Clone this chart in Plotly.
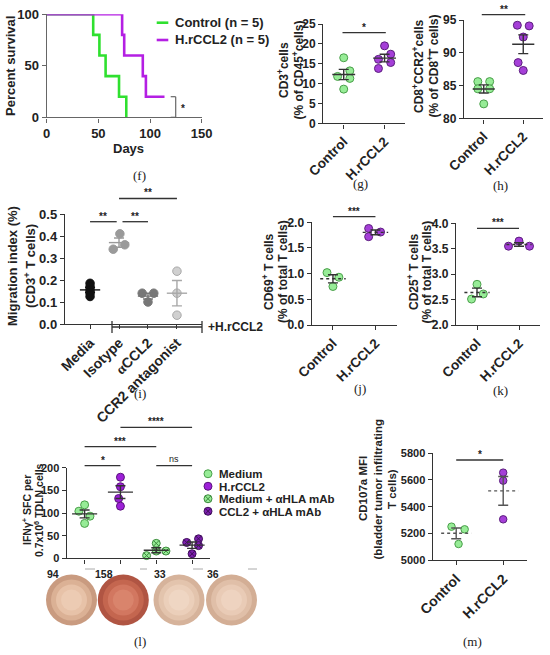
import numpy as np
import plotly.graph_objects as go

W, H = 550, 655
SANS = 'Liberation Sans, Arial, sans-serif'
SERIF = 'Liberation Serif, Times New Roman, serif'

GREEN_LINE = '#2fe02f'
PURPLE_LINE = '#b41fe3'
GREEN_FILL = '#97ec97'
GREEN_EDGE = '#4a9f4a'
PURPLE_FILL = '#a53fd8'
PURPLE_EDGE = '#5c1f7e'
AX = '#333333'

# ---- data ----
# (f) survival
surv_ctrl_days = [0, 45, 51, 57, 70, 77]
surv_ctrl_pct = [100, 80, 60, 40, 20, 0]
surv_hr_days = [0, 73, 75, 93, 96, 114]
surv_hr_pct = [100, 80, 60, 40, 20, 20]

two_groups = ['Control', 'H.rCCL2']

# (g) CD3+ % of CD45+
cd3_ctrl = [16.5, 13.2, 11.8, 11.3, 8.6]
cd3_hr = [19.5, 17.4, 16.1, 15.3, 13.8]

# (h) CD8+CCR2+ % of CD8+
ccr2_ctrl = [85.6, 85.6, 84.5, 84.5, 82.2]
ccr2_hr = [94.2, 94.1, 92.4, 88.5, 87.3]

# (i) migration index
mig_groups = ['Media', 'Isotype', "<span style='font-family:Liberation Serif'>α</span>CCL2",
              'CCR2 antagonist']
mig_media = [0.185, 0.17, 0.155, 0.14, 0.125]
mig_isotype = [0.41, 0.34, 0.36]
mig_accl2 = [0.14, 0.14, 0.10]
mig_ccr2 = [0.24, 0.14, 0.04]

# (j) CD69+
cd69_ctrl = [1.02, 0.93, 0.75]
cd69_hr = [1.88, 1.72, 1.81]

# (k) CD25+
cd25_ctrl = [2.80, 2.51, 2.61]
cd25_hr = [3.55, 3.65, 3.55]

# (l) IFNg ELISpot
ifn_groups = ['Medium', 'H.rCCL2', 'Medium + αHLA mAb', 'CCL2 + αHLA mAb']
ifn_medium = [118, 104, 93, 77]
ifn_hr = [179, 158, 132, 115]
ifn_medium_hla = [33, 6, 16, 16]
ifn_ccl2_hla = [35, 43, 28, 10]
spot_counts = ['94', '158', '33', '36']

# (m) CD107a MFI
cd107_ctrl = [5250, 5230, 5120]
cd107_hr = [5655, 5595, 5305]


def px(v):
    return v / W


def py(v):
    return 1 - v / H


fig = go.Figure()
layout = dict(width=W, height=H, margin=dict(l=0, r=0, t=0, b=0, autoexpand=False),
              paper_bgcolor='white', plot_bgcolor='white', showlegend=False,
              font=dict(family=SANS, color='#222'))


def axis_style(color=AX, size=12):
    return dict(showline=True, linecolor=color, linewidth=1.4, ticks='outside', ticklen=4,
                tickwidth=1.4, tickcolor=color, showgrid=False, zeroline=False, fixedrange=True,
                automargin=False,
                tickfont=dict(family=SANS, size=size, weight='bold', color='#222'))


def add_axes(n, xdom, ydom, xrange, yrange, ytick, xtickvals, xticktext=None, size=12, xsize=13.5, color=AX,
             yfmt=None):
    xa = axis_style(color, xsize)
    xa.update(domain=[px(xdom[0]), px(xdom[1])], range=xrange, anchor=f'y{n}',
              tickvals=xtickvals, ticktext=xticktext, tickangle=-45 if xticktext else 0,
              showticklabels=xticktext is not None)
    ya = axis_style(color, size)
    ya.update(domain=[py(ydom[1]), py(ydom[0])], range=yrange, anchor=f'x{n}', dtick=ytick)
    if yfmt:
        ya['tickformat'] = yfmt
    layout['xaxis' if n == 1 else f'xaxis{n}'] = xa
    layout['yaxis' if n == 1 else f'yaxis{n}'] = ya


def dots(n, x0, vals, dx, fill, edge, size=8, symbol='circle'):
    fig.add_trace(go.Scatter(x=[x0 + d for d in dx], y=vals, mode='markers', cliponaxis=False,
                             marker=dict(size=size, color=fill, symbol=symbol, line=dict(color=edge, width=1)),
                             xaxis=f'x{n}', yaxis=f'y{n}', hoverinfo='skip'))


def mean_sem(n, x0, vals, half, color=AX, dash='solid', mcolor=None):
    m = float(np.mean(vals))
    s = float(np.std(vals, ddof=1) / np.sqrt(len(vals)))
    fig.add_trace(go.Scatter(x=[x0 - half, x0 + half], y=[m, m], mode='lines', cliponaxis=False,
                             line=dict(color=mcolor or color, width=1.4, dash=dash),
                             xaxis=f'x{n}', yaxis=f'y{n}', hoverinfo='skip'))
    fig.add_trace(go.Scatter(x=[x0], y=[m], mode='markers', marker=dict(size=1, opacity=0),
                             error_y=dict(type='data', array=[s], color=color, thickness=1.4, width=5),
                             cliponaxis=False, xaxis=f'x{n}', yaxis=f'y{n}', hoverinfo='skip'))


annots = []
shapes = []


def text(x, y, t, size=12, angle=0, family=SANS, xanchor='center', color='#222'):
    annots.append(dict(x=px(x), y=py(y), xref='paper', yref='paper', text=t, showarrow=False,
                       textangle=angle, xanchor=xanchor, yanchor='middle',
                       font=dict(family=family, size=size, color=color)))


def ytitle(xs, y, lines, size=12):
    for x, t in zip(xs, lines):
        text(x, y, f'<b>{t}</b>', size=size, angle=-90)


def bracket(n, xa, xb, ypix, label, size=10):
    shapes.append(dict(type='line', xref=f'x{n}', yref='paper', x0=xa, x1=xb, y0=py(ypix), y1=py(ypix),
                       line=dict(color=AX, width=1.3)))
    bold = label != 'ns'
    annots.append(dict(x=(xa + xb) / 2, y=py(ypix), xref=f'x{n}', yref='paper', showarrow=False,
                       text=f'<b>{label}</b>' if bold else label, yanchor='bottom', yshift=-2 if bold else 0,
                       font=dict(family=SANS, size=size if bold else 9, color='#222')))


# ---- (f) survival ----
add_axes(1, (46.7, 201.7), (14.3, 117.3), [0, 150], [0, 100], 50, [0, 50, 100, 150], size=13, xsize=13,
         color='#666')
layout['xaxis']['showticklabels'] = True
fig.add_trace(go.Scatter(x=surv_ctrl_days, y=surv_ctrl_pct, mode='lines', line_shape='hv', cliponaxis=False,
                         line=dict(color=GREEN_LINE, width=2.6), xaxis='x', yaxis='y'))
fig.add_trace(go.Scatter(x=surv_hr_days, y=surv_hr_pct, mode='lines', line_shape='hv', cliponaxis=False,
                         line=dict(color=PURPLE_LINE, width=2.6), xaxis='x', yaxis='y'))
ytitle([10], 66, ['Percent survival'], size=13)
text(128, 148, '<b>Days</b>', size=13)
for yy, col, lab in [(22.7, GREEN_LINE, 'Control (n = 5)'), (40, PURPLE_LINE, 'H.rCCL2 (n = 5)')]:
    shapes.append(dict(type='line', xref='paper', yref='paper', x0=px(156.7), x1=px(168.3), y0=py(yy), y1=py(yy),
                       line=dict(color=col, width=2.6)))
    text(172.7, yy, f'<b>{lab}</b>', size=13, xanchor='left')
for seg in [(175.7, 96.7, 175.7, 117.3), (170.7, 96.7, 175.7, 96.7), (170.7, 117.3, 175.7, 117.3)]:
    shapes.append(dict(type='line', xref='paper', yref='paper', x0=px(seg[0]), y0=py(seg[1]),
                       x1=px(seg[2]), y1=py(seg[3]), line=dict(color='#666', width=1.2)))
text(182.7, 109, '<b>*</b>', size=10)
text(140, 176, '(f)', size=13, family=SERIF)

# ---- (g) CD3 ----
add_axes(2, (323.3, 405), (24, 123.3), [-0.5, 1.5], [0, 25], 5, [0, 1], two_groups)
dots(2, 0, cd3_ctrl, [0, 0.15, -0.15, 0.15, 0], GREEN_FILL, GREEN_EDGE)
dots(2, 1, cd3_hr, [0, 0.15, -0.15, 0.15, -0.15], PURPLE_FILL, PURPLE_EDGE)
mean_sem(2, 0, cd3_ctrl, 0.28)
mean_sem(2, 1, cd3_hr, 0.28)
bracket(2, -0.03, 1.03, 32.7, '*')
ytitle([283, 297.5], 70, ['CD3<sup>+</sup>cells', '(% of CD45<sup>+</sup>cells)'])
text(360, 183, '(g)', size=13, family=SERIF)

# ---- (h) CD8 CCR2 ----
add_axes(3, (464, 543), (20, 118.3), [-0.5, 1.5], [80, 95], 5, [0, 1], two_groups)
dots(3, 0, ccr2_ctrl, [-0.15, 0.15, -0.15, 0.15, 0], GREEN_FILL, GREEN_EDGE)
dots(3, 1, ccr2_hr, [-0.15, 0.15, 0, -0.13, 0], PURPLE_FILL, PURPLE_EDGE)
mean_sem(3, 0, ccr2_ctrl, 0.28)
mean_sem(3, 1, ccr2_hr, 0.28)
bracket(3, -0.05, 1.05, 14.7, '**')
ytitle([418, 432.5], 66, ['CD8<sup>+</sup>CCR2<sup>+</sup>cells', '(% of CD8<sup>+</sup>T cells)'])
text(500, 185, '(h)', size=13, family=SERIF)

# ---- (i) migration ----
add_axes(4, (65, 202), (214, 324), [-0.865, 3.865], [0, 0.5], 0.1, [0, 1, 2, 3], mig_groups, size=13, xsize=14,
         yfmt='.1f')
mig_style = [('#111111', '#111111', mig_media, [0, 0, 0, 0, 0]),
             ('#9a9a9a', '#9a9a9a', mig_isotype, [0.03, -0.2, 0.2]),
             ('#777777', '#777777', mig_accl2, [-0.2, 0.2, 0]),
             ('#d0d0d0', '#a8a8a8', mig_ccr2, [0, 0, 0])]
for k, (fill, edge, vals, dx) in enumerate(mig_style):
    dots(4, k, vals, dx, fill, edge, size=8.5)
    mean_sem(4, k, vals, 0.35, color=edge)
bracket(4, 0, 0.92, 221.7, '**')
bracket(4, 1.12, 2.0, 221.7, '**')
bracket(4, 1.0, 3.0, 198.5, '**')
for seg in [(112, 327, 202, 327), (112, 321, 112, 333), (202, 321, 202, 333)]:
    shapes.append(dict(type='line', xref='paper', yref='paper', x0=px(seg[0]), y0=py(seg[1]),
                       x1=px(seg[2]), y1=py(seg[3]), line=dict(color=AX, width=1.3)))
text(206, 327, '<b>+H.rCCL2</b>', size=12, xanchor='left')
ytitle([12, 30], 266, ['Migration index (%)', '(CD3<sup>+</sup> T cells)'], size=13)
text(140, 393, '(i)', size=13, family=SERIF)

# ---- (j) CD69 ----
add_axes(5, (311.7, 396.7), (222.3, 325), [-0.5, 1.5], [0, 2], 0.5, [0, 1], two_groups, yfmt='.1f')
dots(5, 0, cd69_ctrl, [-0.14, 0.14, 0], GREEN_FILL, GREEN_EDGE)
dots(5, 1, cd69_hr, [-0.16, -0.16, 0.12], PURPLE_FILL, PURPLE_EDGE)
mean_sem(5, 0, cd69_ctrl, 0.3, dash='dot')
mean_sem(5, 1, cd69_hr, 0.3, dash='dot')
bracket(5, 0, 1, 216.7, '***')
ytitle([268, 283], 272, ['CD69<sup>+</sup> T cells', '(% of total T cells)'])
text(360, 388, '(j)', size=13, family=SERIF)

# ---- (k) CD25 ----
add_axes(6, (456, 540), (223.3, 325), [-0.5, 1.5], [2, 4], 0.5, [0, 1], two_groups, yfmt='.1f')
dots(6, 0, cd25_ctrl, [0, -0.13, 0.15], GREEN_FILL, GREEN_EDGE)
dots(6, 1, cd25_hr, [-0.25, 0, 0.25], PURPLE_FILL, PURPLE_EDGE)
mean_sem(6, 0, cd25_ctrl, 0.3, dash='dot')
mean_sem(6, 1, cd25_hr, 0.3, dash='dot')
bracket(6, 0, 1, 228.3, '***')
ytitle([413, 426.5], 272, ['CD25<sup>+</sup> T cells', '(% of total T cells)'])
text(500, 390, '(k)', size=13, family=SERIF)

# ---- (l) IFNg ELISpot ----
add_axes(7, (66.7, 210), (467.7, 558.3), [-0.5, 3.5], [0, 200], 50, [0, 1, 2, 3], size=11)
ifn_style = [(ifn_medium, [0, -0.16, 0.15, 0], GREEN_FILL, GREEN_EDGE, 'circle'),
             (ifn_hr, [0, 0, -0.05, 0], '#9d20d8', '#5a137c', 'circle'),
             (ifn_medium_hla, [0, -0.27, 0, 0.27], GREEN_FILL, '#3d8a3d', 'circle-x'),
             (ifn_ccl2_hla, [-0.15, 0.18, 0.18, 0], '#7d1fae', '#3f0f5a', 'circle-x')]
for k, (vals, dx, fill, edge, sym) in enumerate(ifn_style):
    dots(7, k, vals, dx, fill, edge, size=8, symbol=sym)
    mean_sem(7, k, vals, 0.35)
bracket(7, 0, 1, 465.7, '*')
bracket(7, 2, 3, 465.7, 'ns')
bracket(7, 0, 2, 446.7, '***')
bracket(7, 1, 3, 427.3, '****')
ytitle([26, 38], 510, ['IFNγ<sup>+</sup> SFC per', '0.7x10<sup>6</sup> TDLN cells'], size=10.5)

# legend of (l) on a hidden helper axis
layout['xaxis9'] = dict(domain=[px(203), px(213)], range=[-1, 1], visible=False, anchor='y9', fixedrange=True)
layout['yaxis9'] = dict(domain=[py(517.5), py(467.5)], range=[3.5, -0.5], visible=False, anchor='x9',
                        fixedrange=True)
for k, (vals, dx, fill, edge, sym) in enumerate(ifn_style):
    fig.add_trace(go.Scatter(x=[0], y=[k], mode='markers', xaxis='x9', yaxis='y9', cliponaxis=False,
                             marker=dict(size=8, color=fill, symbol=sym, line=dict(color=edge, width=1)),
                             hoverinfo='skip'))
    text(217, 474 + 12.5 * k, f'<b>{ifn_groups[k]}</b>', size=11.5, xanchor='left')

# culture wells under (l): rim to centre shading
well_x = [71.5, 123.3, 179, 231.5]
well_shades = [['#c99b80', '#dbb195', '#e7c2a8', '#eccbb3'],
               ['#b05543', '#c4664f', '#d27760', '#d9846c'],
               ['#d6b39b', '#e3c4ad', '#ebcfba', '#efd6c3'],
               ['#d3ae95', '#e0bfa8', '#e9cbb6', '#eed3c0']]
for k, cx in enumerate(well_x):
    for j, col in enumerate(well_shades[k]):
        r = 25.5 - 5 * j
        shapes.append(dict(type='circle', xref='paper', yref='paper', x0=px(cx - r), x1=px(cx + r),
                           y0=py(600 + r), y1=py(600 - r), fillcolor=col, line=dict(width=0)))
    text(cx - 19, 574, f'<b>{spot_counts[k]}</b>', size=10.5, xanchor='center')
for a, b in [(85, 95), (140, 147), (193, 203), (248, 257)]:
    shapes.append(dict(type='line', xref='paper', yref='paper', x0=px(a), x1=px(b), y0=py(569), y1=py(569),
                       line=dict(color='#aaaaaa', width=1)))
text(140, 641, '(l)', size=13, family=SERIF)

# ---- (m) CD107a ----
add_axes(8, (432.7, 526.7), (453.3, 560), [-0.5, 1.5], [5000, 5800], 200, [0, 1], two_groups, size=11,
         xsize=14)
dots(8, 0, cd107_ctrl, [-0.1, 0.18, 0.05], GREEN_FILL, GREEN_EDGE, size=7.5)
dots(8, 1, cd107_hr, [0, 0, 0], PURPLE_FILL, PURPLE_EDGE, size=7.5)
mean_sem(8, 0, cd107_ctrl, 0.32, color='#555', dash='dot')
mean_sem(8, 1, cd107_hr, 0.32, color='#555', dash='dot')
bracket(8, 0, 1, 460, '*')
ytitle([363, 377.5, 392], 489, ['CD107a MFI', '(bladder tumor infiltrating', 'T cells)'], size=11.5)
text(472, 641, '(m)', size=13, family=SERIF)

layout['annotations'] = annots
layout['shapes'] = shapes
fig.update_layout(**layout)
fig.write_html("out.html", config={'displayModeBar': False},
               post_script="document.body.style.margin='0';")
